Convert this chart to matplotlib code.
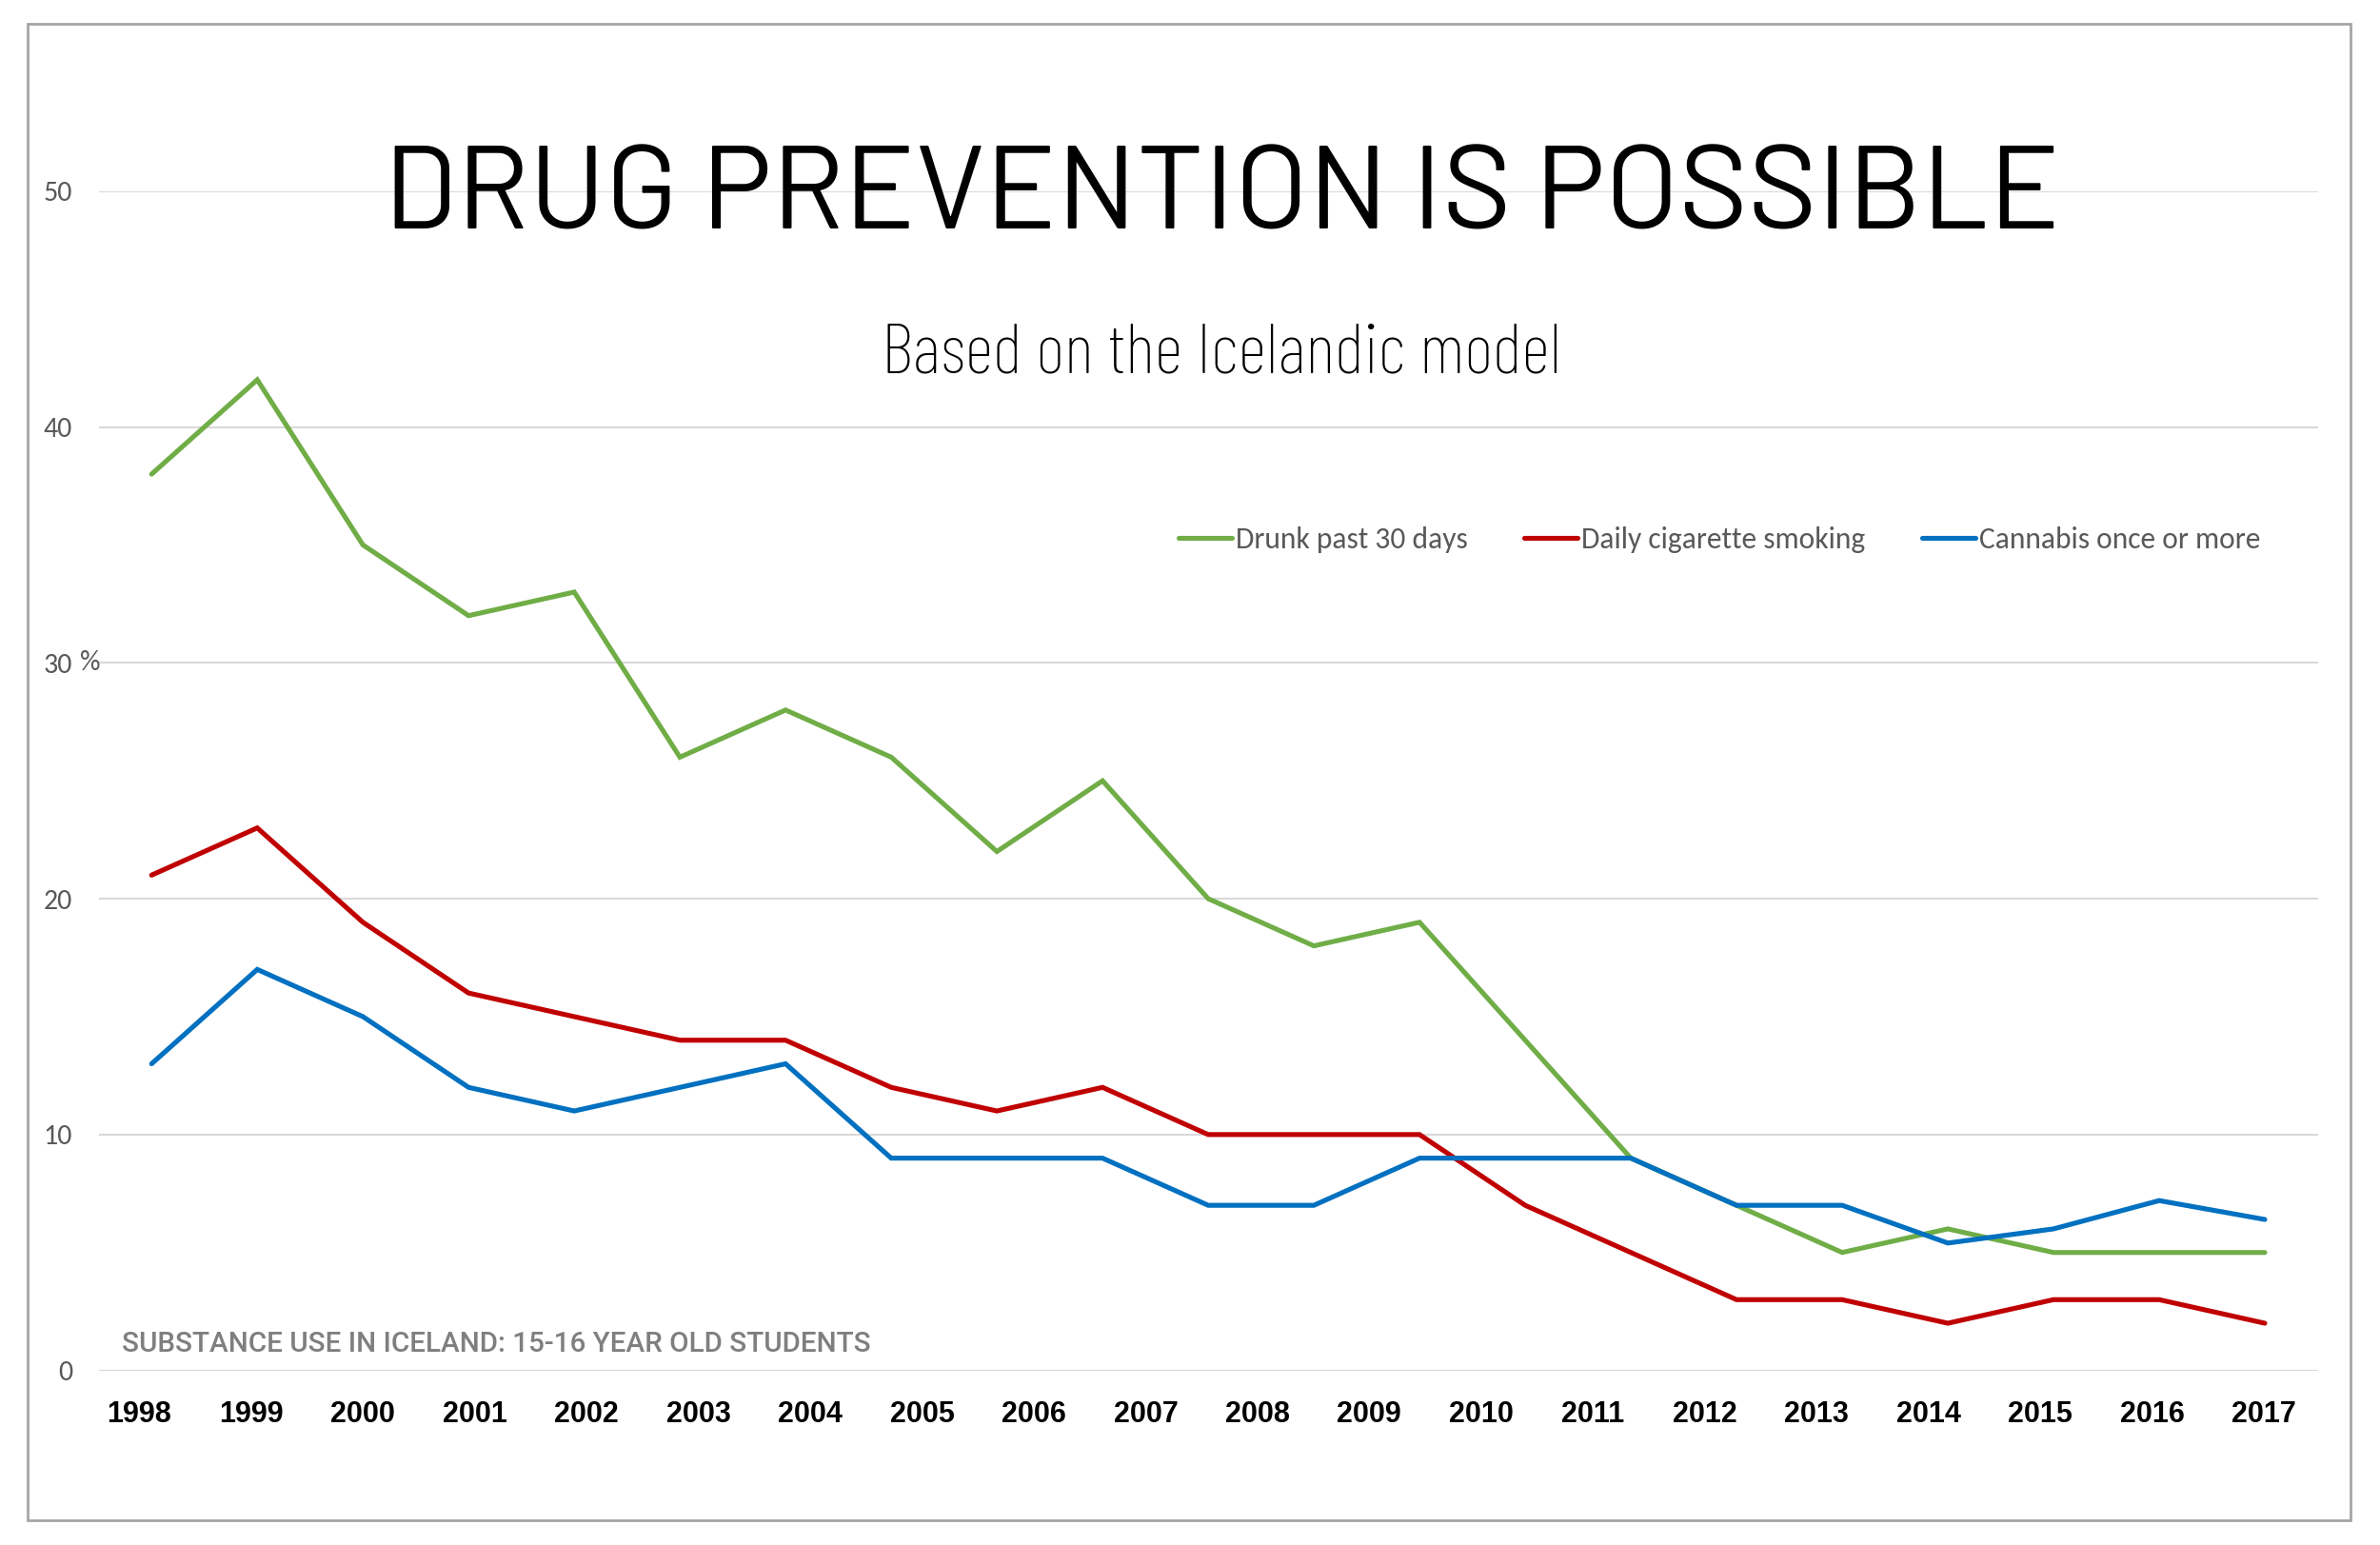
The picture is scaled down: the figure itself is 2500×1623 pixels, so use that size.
import numpy as np
import matplotlib
matplotlib.use("Agg")
import matplotlib.pyplot as plt
from matplotlib import font_manager as fm
from matplotlib.patches import Rectangle

# ---------------- data ----------------
years = ['1998', '1999', '2000', '2001', '2002', '2003', '2004', '2005', '2006', '2007',
         '2008', '2009', '2010', '2011', '2012', '2013', '2014', '2015', '2016', '2017']
drunk = [38, 42, 35, 32, 33, 26, 28, 26, 22, 25, 20, 18, 19, 14, 9, 7, 5, 6, 5, 5, 5]
smoking = [21, 23, 19, 16, 15, 14, 14, 12, 11, 12, 10, 10, 10, 7, 5, 3, 3, 2, 3, 3, 2]
cannabis = [13, 17, 15, 12, 11, 12, 13, 9, 9, 9, 7, 7, 9, 9, 9, 7, 7, 5.4, 6, 7.2, 6.4]
series_names = ['Drunk past 30 days', 'Daily cigarette smoking', 'Cannabis once or more']
series_colors = ['#70AD47', '#C00000', '#0070C0']
yticks = [0, 10, 20, 30, 40, 50]
title = 'DRUG PREVENTION IS POSSIBLE'
subtitle = 'Based on the Icelandic model'
note = 'SUBSTANCE USE IN ICELAND: 15-16 YEAR OLD STUDENTS'

# ---------------- fonts ----------------
avail = {f.name for f in fm.fontManager.ttflist}


def pick(*cands):
    for c in cands:
        if c in avail:
            return c
    return 'DejaVu Sans'


title_font = pick('Barlow', 'Barlow Semi Condensed', 'Roboto Condensed')
sub_font = pick('Barlow Condensed', 'Roboto Condensed')
sans_bold = pick('Liberation Sans', 'Arial', 'DejaVu Sans')
legend_font = pick('Carlito', 'Lato', 'Open Sans')
note_font = pick('Roboto', 'Open Sans', 'DejaVu Sans')
is_carlito = legend_font == 'Carlito'
legend_size = 22.7 if is_carlito else 21
tick_size = 21.6 if is_carlito else 19

# ---------------- figure ----------------
fig = plt.figure(figsize=(25, 16.23), dpi=100)
fig.patch.set_facecolor('white')

ax = fig.add_axes([0.0415, 0.1130, 0.9323, 0.7633])
ax.set_facecolor('none')
x = np.arange(len(drunk))
for vals, name, col in zip([drunk, smoking, cannabis], series_names, series_colors):
    ax.plot(x, vals, color=col, lw=3.7, solid_joinstyle='miter', solid_capstyle='round',
            label=name, zorder=3)

ax.set_xlim(-0.5, len(drunk) - 0.5)
ax.set_ylim(0, 50)
ax.set_yticks(yticks)
ax.set_yticklabels([str(v) for v in yticks])
ax.grid(axis='y', color='#D9D9D9', lw=1.5, zorder=0)
ax.set_axisbelow(True)
for s in ax.spines.values():
    s.set_visible(False)

# year labels (20 labels spread across the 21-point span, as in the original)
tick_pos = np.linspace(-0.115, len(drunk) - 1.01, len(years))
ax.set_xticks(tick_pos)
ax.set_xticklabels(years)
ax.tick_params(axis='x', length=0, pad=22.5)
ax.tick_params(axis='y', length=0, pad=20)
for t in ax.get_xticklabels():
    t.set_fontfamily(sans_bold)
    t.set_fontweight('bold')
    t.set_fontsize(22)
    t.set_color('black')
for t in ax.get_yticklabels():
    t.set_fontfamily(legend_font)
    t.set_fontsize(tick_size)
    t.set_color('#595959')

# percent sign next to the 30 label
ax.text(-0.0085, 30, '%', transform=ax.get_yaxis_transform(), ha='left', va='center',
        fontsize=tick_size, color='#595959', family=legend_font)

# legend
leg = fig.legend(loc='center', bbox_to_anchor=(0.7224, 0.6508), ncol=3, frameon=False,
                 prop={'family': legend_font, 'size': legend_size},
                 handlelength=1.92 * 21 / legend_size, handletextpad=0.12,
                 columnspacing=2.05 * 21 / legend_size, borderaxespad=0)
for t in leg.get_texts():
    t.set_color('#595959')

# title & subtitle (sized to the width they take in the original)
renderer = fig.canvas.get_renderer()


def fit(txt, target_px):
    txt.set_fontsize(50)
    w = txt.get_window_extent(renderer).width
    txt.set_fontsize(50 * target_px / w)


t1 = fig.text(0.5134, 0.8521, title, ha='center', va='baseline',
              family=title_font, fontweight='normal', color='black')
fit(t1, 1760)
t2 = fig.text(0.5134, 0.7585, subtitle, ha='center', va='baseline',
              family=sub_font, fontweight='light', color='black')
fit(t2, 715)

# note
fig.text(0.0512, 0.1297, note, ha='left', va='center', fontsize=21.3, family=note_font,
         fontweight='medium', color='#7F7F7F')

# border
fig.patches.append(Rectangle((0.0117, 0.016), 0.9759, 0.9684, transform=fig.transFigure,
                             fill=False, edgecolor='#A6A6A6', lw=2.0))

fig.savefig('out.png', dpi=100)
